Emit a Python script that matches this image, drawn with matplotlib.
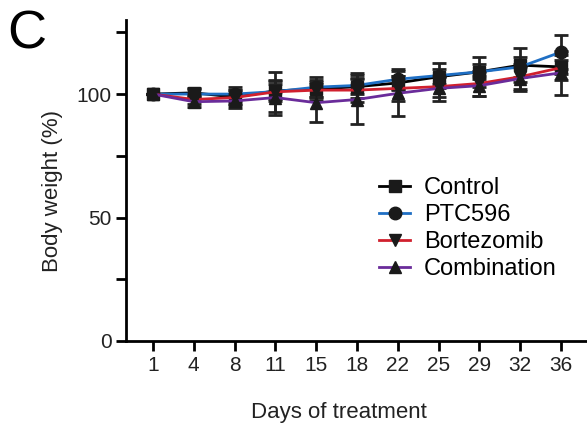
import matplotlib
matplotlib.use("Agg")
import matplotlib.pyplot as plt
import numpy as np

plt.rcParams.update({"font.family": ["Liberation Sans", "DejaVu Sans"],
                     "font.size": 15})

days = ["1", "4", "8", "11", "15", "18", "22", "25", "29", "32", "36"]

control     = [100, 100.5, 98.8, 101.3, 102, 103, 104.5, 107, 109, 111.7, 111]
control_sd  = [0, 2, 3, 4, 3, 3, 3, 3, 3, 7, 3]
ptc596      = [100, 100, 100, 101, 102.8, 103.5, 106, 107.5, 109, 111, 117]
ptc596_sd   = [0, 2, 3, 3, 4, 5, 4, 5, 6, 4, 7]
bortez      = [100, 97.8, 98.6, 100.9, 101.6, 101.6, 102.3, 103, 104.3, 107, 110.7]
bortez_sd   = [0, 2, 3, 8, 4, 5, 5, 4, 5, 5, 5]
combo       = [100, 96.9, 97.2, 98.6, 96.5, 97.8, 100.3, 102.3, 103.4, 106.3, 108.6]
combo_sd    = [0, 2, 3, 7, 7.7, 10, 9, 5, 4, 5, 9]

series = [
    ("Control", control, control_sd, "black", "s"),
    ("PTC596", ptc596, ptc596_sd, "#1f6fc4", "o"),
    ("Bortezomib", bortez, bortez_sd, "#d0202e", "v"),
    ("Combination", combo, combo_sd, "#6a2c9a", "^"),
]

fig = plt.figure(figsize=(5.87, 4.3), dpi=100)
ax = fig.add_axes([0.2147, 0.207, 0.7853, 0.7465])

x = np.arange(len(days))
handles = []
for name, vals, sd, col, mk in series:
    ax.errorbar(x, vals, yerr=sd, fmt="none", ecolor="#222222",
                elinewidth=2, capsize=5, capthick=2, zorder=2)
    h, = ax.plot(x, vals, color=col, lw=2, marker=mk, markersize=9,
                 markerfacecolor="#1a1a1a", markeredgecolor="#1a1a1a",
                 label=name, zorder=3)
    handles.append(h)

ax.set_xticks(x)
ax.set_xticklabels(days)
ax.set_xlim(-0.66, 10.64)
ax.set_ylim(0, 130)
ax.set_yticks([0, 50, 100])
ax.set_yticks([25, 75, 125], minor=True)

for s in ("top", "right"):
    ax.spines[s].set_visible(False)
for s in ("left", "bottom"):
    ax.spines[s].set_linewidth(2)
ax.tick_params(axis="both", which="major", width=2, length=7,
               labelsize=15, labelcolor="#222222")
ax.tick_params(axis="y", which="minor", width=2, length=7)

ax.set_xlabel("Days of treatment", fontsize=16, color="#222222")
ax.set_ylabel("Body weight (%)", fontsize=16, color="#222222")
ax.xaxis.set_label_coords(0.462, -0.19)
ax.yaxis.set_label_coords(-0.137, 0.467)

ax.legend(handles=handles, loc="upper left", bbox_to_anchor=(0.63, 0.61),
          bbox_transform=fig.transFigure, frameon=False, fontsize=17,
          handlelength=1.3, handletextpad=0.6, labelspacing=0.21,
          borderaxespad=0)

fig.text(0.012, 0.978, "C", fontsize=39, va="top", ha="left")

fig.savefig("out.png", dpi=100)
